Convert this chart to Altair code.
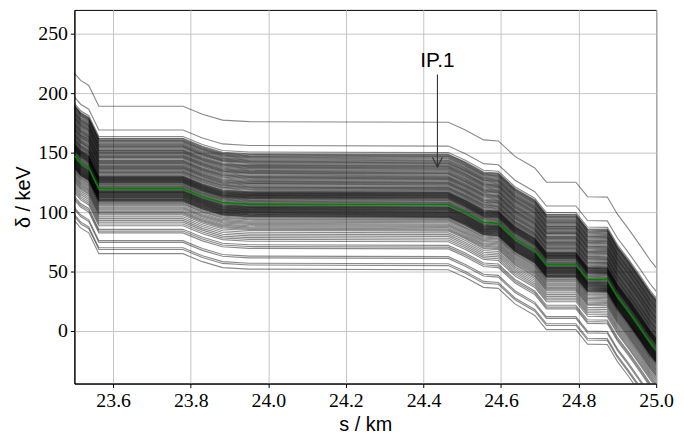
import altair as alt
import pandas as pd

# Reference (green) trajectory
s_km = [23.50, 23.516, 23.537, 23.563, 23.78, 23.83, 23.882, 23.95, 24.464,
        24.508, 24.555, 24.593, 24.636, 24.687, 24.717, 24.793, 24.823,
        24.874, 24.900, 24.929, 24.959, 24.985, 25.0]
green_delta = [147.5, 141.4, 137.2, 119.7, 119.7, 113.0, 108.0, 106.7, 106.2,
               99.7, 91.4, 90.5, 77.5, 67.8, 55.8, 55.8, 43.6,
               43.3, 28.9, 16.4, 2.5, -10.0, -16.0]
green_plateau = 106.7

# Plateau values (keV, s = 24.0 .. 24.4) of each grey trajectory
plateau = [
    176, 156, 150.5,
    149, 148.4, 147.8, 147.2, 146.6, 146, 145.3, 144.5, 143.8, 143.2, 142.6,
    142, 141.5, 140.8, 140, 139.3, 138.8, 138.2, 137.6, 137, 136.3, 135.5,
    134.8, 134.2, 133.6, 133, 132.5, 131.8, 131, 130.3, 129.8, 129.2, 128.6,
    128, 127.3, 126.5, 125.8, 125.2, 124.6, 124, 123.5, 122.8, 122, 121.3,
    120.8, 120.2, 119.6, 119, 118.3, 117.5,
    117, 116.6, 116.2, 115.8, 115.5, 115.1, 114.7, 114.3, 114, 113.6, 113.2,
    112.8, 112.5, 112.1, 111.7, 111.3,
    110.8, 110.2, 109.6, 109, 108.4, 107.8, 107.2, 106.2, 105.6, 105,
    104.6, 104.2, 103.8, 103.5, 103.1, 102.7, 102.3, 102, 101.6, 101.2, 100.8,
    100.5, 100.1, 99.7, 99.3, 99, 98.6, 98.2, 97.8, 97.5, 97.1, 96.7, 96.3, 96,
    95.2, 94.3, 93.5, 92.5, 91.5, 90.5, 89.5, 88.5, 87.5, 86.5, 85.5, 84.5,
    83, 81.5, 80, 78.5, 77, 75.5, 72.5, 71, 69.5, 63, 61.5, 57, 55.5, 52,
]

x_ticks = [23.6, 23.8, 24.0, 24.2, 24.4, 24.6, 24.8, 25.0]
y_ticks = [0, 50, 100, 150, 200, 250]

ann_text = ["IP.1"]
ann_s = [24.436]
ann_text_y = [222.0]
ann_tail_y = [215.6]
ann_tip_y = [137.8]

rows = []
for i, p in enumerate(plateau):
    off = p - green_plateau
    for s, g in zip(s_km, green_delta):
        rows.append({"line": i, "s": s, "d": g + off})
gray_df = pd.DataFrame(rows)
green_df = pd.DataFrame({"s": s_km, "d": green_delta})
ann_df = pd.DataFrame({"t": ann_text, "s": ann_s, "ty": ann_text_y,
                       "y1": ann_tail_y, "y2": ann_tip_y})

xs = alt.Scale(domain=[23.5, 25.0], nice=False, zero=False)
ys = alt.Scale(domain=[-44.2, 270], nice=False, zero=False)

x_enc = alt.X("s:Q", scale=xs,
              axis=alt.Axis(values=x_ticks, format=".1f", title="s / km",
                            labelFlush=False, labelOverlap=False, titlePadding=4))
y_enc = alt.Y("d:Q", scale=ys,
              axis=alt.Axis(values=y_ticks, title="δ / keV", titlePadding=4,
                            labelOverlap=False))

gray = alt.Chart(gray_df).mark_line(color="black", strokeWidth=1.15,
                                    opacity=0.46, clip=True).encode(
    x=x_enc, y=y_enc, detail="line:N")
green = alt.Chart(green_df).mark_line(color="#008000", strokeWidth=1.6,
                                      clip=True).encode(x="s:Q", y="d:Q")
arrow = alt.Chart(ann_df).mark_rule(color="#333333", strokeWidth=1.1).encode(
    x="s:Q", y="y1:Q", y2="y2:Q")
head = alt.Chart(ann_df).mark_point(shape="M-0.5,-1L0,0L0.5,-1", filled=False,
                                    size=400, color="#333333", opacity=1,
                                    strokeWidth=1.1).encode(x="s:Q", y="y2:Q")
label = alt.Chart(ann_df).mark_text(font="Liberation Sans", fontSize=21,
                                    color="black", baseline="alphabetic",
                                    align="center").encode(
    x="s:Q", y="ty:Q", text="t:N")

chart = alt.layer(gray, green, arrow, head, label).properties(
    width=587, height=377,
    autosize=alt.AutoSizeParams(type="none"),
    padding={"left": 67, "top": 0, "right": 20, "bottom": 50},
).configure_axis(
    labelFont="Liberation Serif", labelFontSize=20, labelColor="black",
    titleFont="Liberation Sans", titleFontSize=20, titleFontWeight="normal",
    titleColor="black", domainColor="black", tickColor="black", tickSize=4,
    gridColor="#c4c4c4", gridWidth=1, labelPadding=3,
).configure_view(stroke="black", strokeWidth=1)

chart.save("out.html", embed_options={"renderer": "svg", "actions": False})
